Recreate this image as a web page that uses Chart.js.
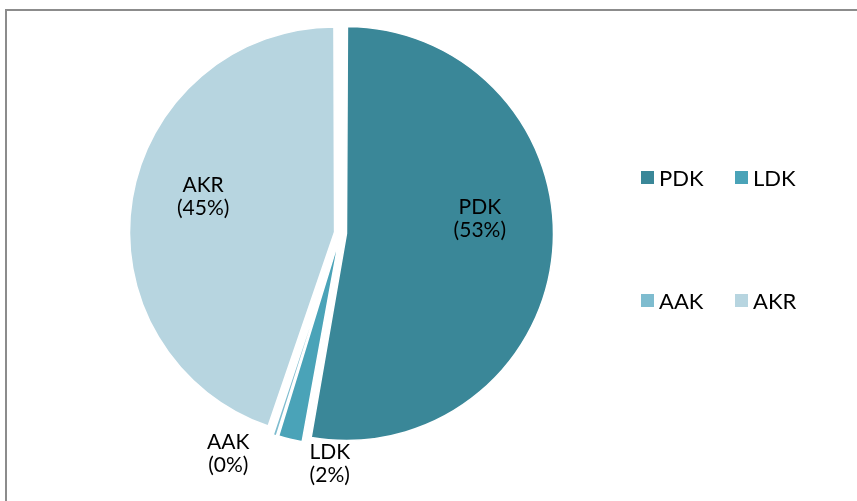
<!DOCTYPE html>
<html>
    <head>
        <script src="https://cdn.jsdelivr.net/npm/chart.js"></script>
        <title>Pie</title>
        <style>
            body { margin: 0; background: #fff; font-family: Lato, "Open Sans", sans-serif; }
            .frame { position: absolute; left: 5px; top: 9px; width: 900px; height: 560px; border: 2px solid #8c8c8c; }
            #chartWrapper { position: absolute; left: 0; top: 0; width: 857px; height: 501px; }
            .legend { position: absolute; left: 641px; top: 164px; display: grid; grid-template-columns: 94px 94px; row-gap: 96px; }
            .legend div { display: flex; align-items: center; font-size: 22px; color: #000; height: 27px; }
            .legend span.box { display: inline-block; width: 13px; height: 13px; margin-right: 5px; }
        </style>
    </head>
    <body>
        <div class="frame"></div>
        <div id="chartWrapper">
            <canvas id="myChart" width="857" height="501"></canvas>
        </div>
        <div class="legend" id="legend"></div>

        <script>
            const labels = ['PDK', 'LDK', 'AAK', 'AKR'];
            const values = [52.8, 2.0, 0.4, 44.8];
            const colors = ['#3a8798', '#4aa3b8', '#7ebccf', '#b7d5e0'];

            // where each data label sits: fraction of radius, angle nudge in degrees
            const labelPlace = [[0.68, -11], [1.12, -11], [1.20, 9], [0.69, 5.5]];

            const total = values.reduce((a, b) => a + b, 0);

            const pieLabels = {
                id: 'pieLabels',
                afterDatasetsDraw(chart) {
                    const ctx = chart.ctx;
                    const arcs = chart.getDatasetMeta(0).data;
                    ctx.save();
                    ctx.font = '21px Lato, "Open Sans", sans-serif';
                    ctx.fillStyle = '#000';
                    ctx.textAlign = 'center';
                    ctx.textBaseline = 'middle';
                    arcs.forEach(function (arc, i) {
                        const mid = (arc.startAngle + arc.endAngle) / 2 + labelPlace[i][1] * Math.PI / 180;
                        const r = 206 * labelPlace[i][0];
                        const x = arc.x + Math.cos(mid) * r;
                        const y = arc.y + Math.sin(mid) * r;
                        const pct = Math.round(values[i] / total * 100);
                        ctx.fillText(labels[i], x, y - 11.5);
                        ctx.fillText('(' + pct + '%)', x, y + 11.5);
                    });
                    ctx.restore();
                }
            };

            const ctx = document.getElementById('myChart').getContext('2d');

            const myChart = new Chart(ctx, {
                type: 'pie',
                plugins: [pieLabels],
                data: {
                    labels: labels,
                    datasets: [
                        {
                            data: values,
                            backgroundColor: colors,
                            borderColor: '#ffffff',
                            borderWidth: 1.5,
                            offset: 24,
                            hoverOffset: 0,
                        },
                    ],
                },
                options: {
                    responsive: false,
                    animation: false,
                    radius: 201,
                    layout: {
                        padding: { left: 0, right: 176, top: 0, bottom: 35 }
                    },
                    plugins: {
                        legend: { display: false },
                        tooltip: { enabled: false }
                    }
                },
            });

            const legend = document.getElementById('legend');
            labels.forEach(function (name, i) {
                const item = document.createElement('div');
                item.innerHTML = '<span class="box" style="background:' + colors[i] + '"></span>' + name;
                legend.appendChild(item);
            });
        </script>
    </body>
</html>
